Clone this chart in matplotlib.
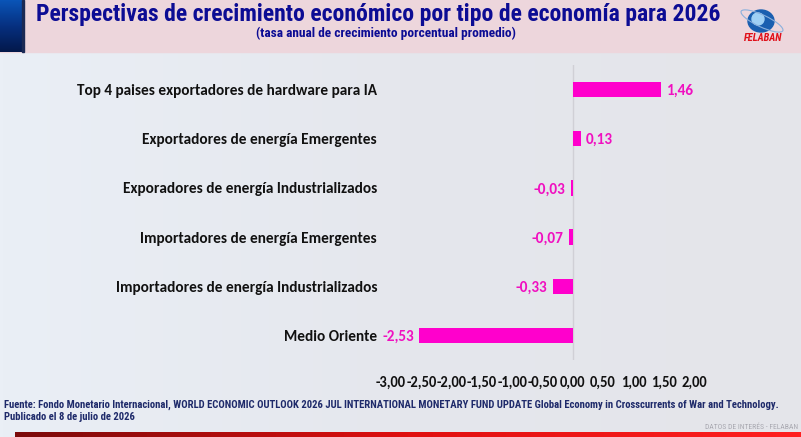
import matplotlib.pyplot as plt
from matplotlib.patches import Rectangle, Ellipse
from matplotlib.colors import LinearSegmentedColormap
from matplotlib import font_manager
import numpy as np

# datos
categorias = ['Medio Oriente',
              'Importadores de energía Industrializados',
              'Importadores de energía Emergentes',
              'Exporadores de energía Industrializados',
              'Exportadores de energía Emergentes',
              'Top 4 paises exportadores de hardware para IA']
valores = [-2.53, -0.33, -0.07, -0.03, 0.13, 1.46]
ticks_x = [-3.0, -2.5, -2.0, -1.5, -1.0, -0.5, 0.0, 0.5, 1.0, 1.5, 2.0]

nombres = {f.name for f in font_manager.fontManager.ttflist}

def primera(lista, defecto):
    for n in lista:
        if n in nombres:
            return n
    return defecto

narrow = primera(['Arial Narrow', 'Liberation Sans Narrow', 'Roboto Condensed',
                  'Nimbus Sans Narrow', 'Asap Condensed', 'Barlow Semi Condensed'], 'DejaVu Sans')
calibri = primera(['Calibri', 'Carlito', 'Lato'], 'DejaVu Sans')
plt.rcParams['font.family'] = [calibri, 'DejaVu Sans']
NF = [narrow, 'DejaVu Sans']
# si no hay fuentes estrechas se achica el texto
k = 1.0 if narrow != 'DejaVu Sans' else 0.75
kc = 1.0 if calibri == 'Carlito' else 0.92

def fmt(v):
    return f'{v:.2f}'.replace('.', ',')

fig = plt.figure(figsize=(8.01, 4.37), dpi=100)
W, H = 801, 437

# fondo
bg = fig.add_axes([0, 0, 1, 1], zorder=-10)
grad = np.linspace(0, 1, 256).reshape(1, -1)
bg.imshow(grad, extent=[0, W, H, 52], aspect='auto',
          cmap=LinearSegmentedColormap.from_list('f', ['#eaeff6', '#e5e7ed', '#e4e5ea']))
bg.add_patch(Rectangle((0, 0), W, 52, color='#edd6dc'))
bg.imshow(grad.T, extent=[0, 22, 52, 0], aspect='auto', zorder=2,
          cmap=LinearSegmentedColormap.from_list('b', ['#0a55b8', '#063080', '#03184a']))
bg.add_patch(Rectangle((22, 0), 1.5, 52, color='#1a2a55', zorder=3))
bg.imshow(grad, extent=[15, W, 437, 432], aspect='auto', zorder=2,
          cmap=LinearSegmentedColormap.from_list('r', ['#7a0a0a', '#e01010', '#ff2020']))
bg.set_xlim(0, W)
bg.set_ylim(H, 0)
bg.axis('off')

# logo
bg.add_patch(Ellipse((761, 21), 26, 22, color='#1a5fb0', zorder=3))
bg.add_patch(Ellipse((758, 19), 12, 12, color='#9fd0f5', zorder=4))
bg.add_patch(Ellipse((762, 21), 46, 12, angle=25, fill=False, ec='#8ab0dc', lw=0.8, zorder=4))
bg.text(763, 38, 'FELABAN', color='#e0101a', fontsize=7.5 * k, fontweight='bold', style='italic',
        ha='center', va='center', family=NF)

# titulos
bg.text(378, 14, 'Perspectivas de crecimiento económico por tipo de economía para 2026',
        color='#0c0c94', fontsize=17 * k, fontweight='bold', ha='center', va='center', family=NF)
bg.text(386, 33, '(tasa anual de crecimiento porcentual promedio)', color='#0c0c94',
        fontsize=9.6 * k, fontweight='bold', ha='center', va='center', family=NF)

# fuente
bg.text(4, 405, 'Fuente: Fondo Monetario Internacional, WORLD ECONOMIC OUTLOOK 2026 JUL INTERNATIONAL '
        'MONETARY FUND UPDATE Global Economy in Crosscurrents of War and Technology.',
        color='#1e2a6a', fontsize=7.7 * k, fontweight='bold', va='center', family=NF)
bg.text(4, 417, 'Publicado el 8 de julio de 2026', color='#1e2a6a', fontsize=7.7 * k,
        fontweight='bold', va='center', family=NF)
bg.text(798, 427, 'DATOS DE INTERÉS - FELABAN', color='#a8a8b0', fontsize=5.5 * k,
        ha='right', va='center', family=NF)

# grafico
ax = fig.add_axes([391 / W, 1 - 360 / H, 303 / W, 295 / H])
ax.patch.set_alpha(0)
y = np.arange(len(categorias))
ax.barh(y, valores, height=0.31, color='#ff00cc', zorder=3)
ax.axvline(0, color='#d0d0d6', lw=1, zorder=1)
ax.set_xlim(-3, 2)
ax.set_ylim(-0.5, 5.5)
ax.set_yticks(y)
ax.set_yticklabels(categorias, fontsize=11 * kc, fontweight='bold', color='#111111')
ax.set_xticks(ticks_x)
ax.set_xticklabels([fmt(t) for t in ticks_x], fontsize=10.5 * kc, fontweight='bold', color='#111111')
ax.tick_params(length=0, axis='y', pad=10)
ax.tick_params(length=0, axis='x', pad=11)
for s in ax.spines.values():
    s.set_visible(False)

for yi, v in zip(y, valores):
    off = 4 if v >= 0 else -4
    ax.annotate(fmt(v), (v, yi), xytext=(off, -1), textcoords='offset points',
                ha='left' if v >= 0 else 'right', va='center',
                color='#f010c0', fontsize=11 * kc, fontweight='bold')

fig.savefig('out.png', dpi=100)
